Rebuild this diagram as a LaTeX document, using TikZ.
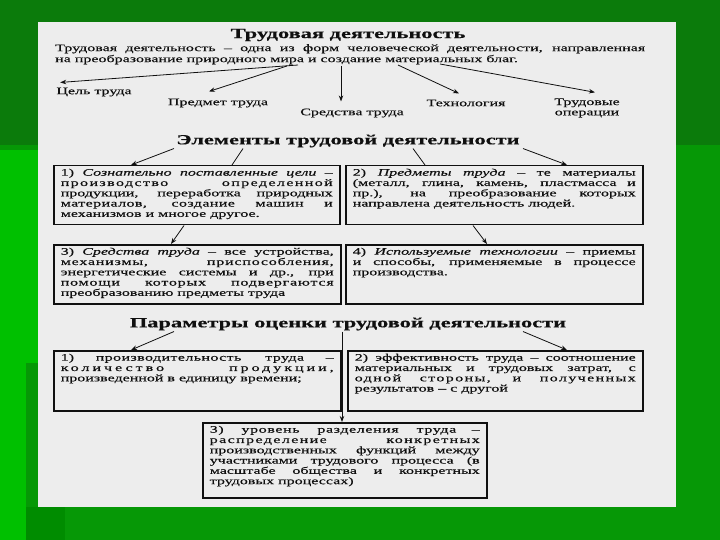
\documentclass[tikz,border=0pt]{standalone}
\usepackage{fontspec}
\setmainfont[FakeStretch=1.6, FakeBold=0.4]{Liberation Serif}
\usetikzlibrary{arrows.meta}

\definecolor{bgdark}{HTML}{0B7B0B}
\definecolor{bgmid}{HTML}{069806}
\definecolor{bglight}{HTML}{00C000}
\definecolor{bgdeep}{HTML}{008C00}
\definecolor{paper}{HTML}{EDEDED}
\definecolor{ink}{HTML}{101010}

% text of a box: width, height, text
\newcommand{\boxtext}[3]{\parbox[t][#2][t]{#1}{\hbadness=10000 #3}}
% letter-spaced line
\newcommand{\lsp}[2][10]{{\addfontfeature{LetterSpace=#1}#2}}

\begin{document}
\begin{tikzpicture}[x=1pt, y=-1pt,
    txt/.style={font=\fontsize{10}{10.3}\selectfont, text=ink, inner sep=1pt},
    head/.style={font=\fontsize{14}{14}\selectfont\bfseries, text=ink, inner sep=1pt},
    tbox/.style={draw=ink, line width=1.5pt, fill=paper, anchor=north west,
        inner xsep=7pt, inner ysep=3pt, font=\fontsize{10}{10.3}\selectfont, text=ink},
    arr/.style={-{Stealth[length=6pt,width=4.5pt]}, line width=0.8pt, draw=ink}]

    \useasboundingbox (0,0) rectangle (720,540);

    % Background
    \fill[bgdark] (0,0) rectangle (720,540);
    \fill[bgmid] (0,145) rectangle (720,540);
    \fill[bglight] (0,150) rectangle (38,540);
    \fill[bgmid] (26,363) rectangle (38,540);
    \fill[bgdeep] (26,507) rectangle (65,540);
    \fill[paper] (38,22) rectangle (676,507);

    % Trudovaya deyatelnost
    \node[head] (title) at (348,35) {Трудовая деятельность};
    \node[txt, anchor=north west, inner sep=0pt] (defn) at (55,44)
        {\parbox[t]{590pt}{\fontsize{10}{11}\selectfont Трудовая деятельность – одна из форм человеческой деятельности, направленная\linebreak на преобразование природного мира и создание материальных благ.}};

    \coordinate (d1) at (298,65);
    \coordinate (d2) at (287,66);
    \coordinate (d3) at (341,66);
    \coordinate (d4) at (398,65);
    \coordinate (d5) at (440,64);

    \node[txt] (cel) at (94,92) {Цель труда};
    \node[txt] (predmet) at (218,103) {Предмет труда};
    \node[txt] (sredstva) at (352,113) {Средства труда};
    \node[txt] (tehn) at (466,103) {Технология};
    \node[txt, align=center] (oper) at (587,108) {Трудовые\\операции};

    \draw[arr] (d1) -- ([shift={(5pt,4pt)}]cel.north west);
    \draw[arr] (d2) -- ([shift={(-9pt,6pt)}]predmet.north);
    \draw[arr] (d3) -- ([shift={(-11pt,6pt)}]sredstva.north);
    \draw[arr] (d4) -- ([shift={(-7pt,5pt)}]tehn.north);
    \draw[arr] (d5) -- ([shift={(8pt,5pt)}]oper.north);

    % Elementy
    \node[head] (elem) at (348,141) {Элементы трудовой деятельности};

    \node[tbox] (b1) at (53,165) {\boxtext{272pt}{53pt}{1) \textit{Сознательно поставленные цели} –\linebreak
        \lsp[14]{производство определенной}\linebreak
        продукции, переработка природных\linebreak
        \lsp[4]{материалов, создание машин и}\linebreak
        механизмов и многое другое.}};
    \node[tbox] (b2) at (345,165) {\boxtext{283pt}{53pt}{2) \textit{Предметы труда} – те материалы\linebreak
        (металл, глина, камень, пластмасса и\linebreak
        пр.), на преобразование которых\linebreak
        направлена деятельность людей.}};
    \node[tbox] (b3) at (53,244) {\boxtext{273pt}{53pt}{3) \textit{Средства труда} – все устройства,\linebreak
        \lsp[8]{механизмы, приспособления,}\linebreak
        энергетические системы и др., при\linebreak
        \lsp[8]{помощи которых подвергаются}\linebreak
        преобразованию предметы труда}};
    \node[tbox] (b4) at (345,244) {\boxtext{283pt}{53pt}{4) \textit{Используемые технологии} – приемы\linebreak
        и способы, применяемые в процессе\linebreak
        производства.}};

    \draw[arr] ([xshift=-174pt]elem.south) -- ([xshift=78pt]b1.north west);
    \draw[line width=0.8pt, ink] ([xshift=-105pt]elem.south) -- ([xshift=179pt]b1.north west);
    \draw[line width=0.8pt, ink] ([xshift=65pt]elem.south) -- ([xshift=80pt]b2.north west);
    \draw[arr] ([xshift=175pt]elem.south) -- ([xshift=222pt]b2.north west);
    \draw[arr] ([xshift=131pt]b1.south west) -- ([xshift=118pt]b3.north west);
    \draw[arr] ([xshift=128pt]b2.south west) -- ([xshift=142pt]b4.north west);

    % Parametry
    \node[head] (param) at (348,324) {Параметры оценки трудовой деятельности};

    \node[tbox] (b5) at (53,350) {\boxtext{273pt}{54pt}{1) \lsp[4]{производительность труда} –\linebreak
        \lsp[30]{количество продукции,}\linebreak
        произведенной в единицу времени;}};
    \node[tbox] (b6) at (347,350) {\boxtext{281pt}{54pt}{2) эффективность труда – соотношение\linebreak
        материальных и трудовых затрат, с\linebreak
        \lsp[14]{одной стороны, и полученных}\linebreak
        результатов – с другой}};
    \node[tbox] (b7) at (202,422) {\boxtext{270pt}{69pt}{\lsp[6]{3) уровень разделения труда} –\linebreak
        \lsp[14]{распределение конкретных}\linebreak
        производственных функций между\linebreak
        участниками трудового процесса (в\linebreak
        масштабе общества и конкретных\linebreak
        трудовых процессах)}};

    \draw[arr] ([xshift=-174pt]param.south) -- ([xshift=78pt]b5.north west);
    \draw[arr] ([xshift=175pt]param.south) -- ([xshift=220pt]b6.north west);
    \draw[arr, line width=1pt] ([xshift=-6pt]param.south) -- ([xshift=140pt]b7.north west);

\end{tikzpicture}
\end{document}
